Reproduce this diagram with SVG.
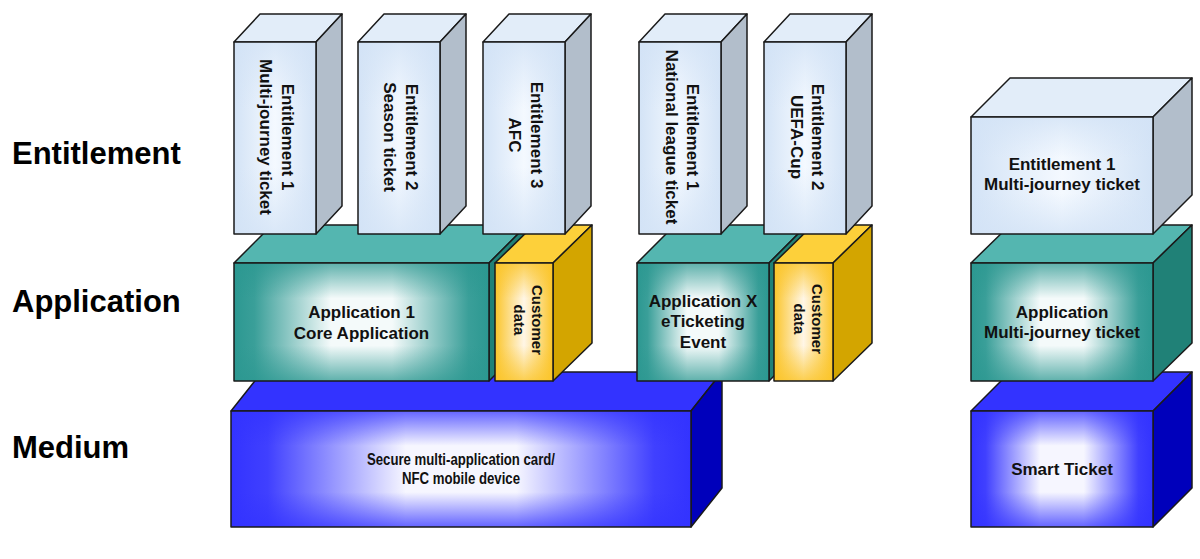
<svg xmlns="http://www.w3.org/2000/svg" width="1200" height="559" viewBox="0 0 1200 559">
<defs>
  <linearGradient id="entH" x1="0" y1="0" x2="1" y2="0">
    <stop offset="0" stop-color="#d3e3f6"/><stop offset="0.5" stop-color="#f4f9ff"/><stop offset="1" stop-color="#d3e3f6"/>
  </linearGradient>
  <linearGradient id="entV" x1="0" y1="0" x2="0" y2="1">
    <stop offset="0" stop-color="#d3e3f6" stop-opacity="0.8"/><stop offset="0.35" stop-color="#d3e3f6" stop-opacity="0"/><stop offset="0.65" stop-color="#d3e3f6" stop-opacity="0"/><stop offset="1" stop-color="#d3e3f6" stop-opacity="0.8"/>
  </linearGradient>
  <linearGradient id="appH" x1="0" y1="0" x2="1" y2="0">
    <stop offset="0" stop-color="#2c9891"/><stop offset="0.08" stop-color="#3a9f99"/><stop offset="0.38" stop-color="#f4fafa"/><stop offset="0.62" stop-color="#f4fafa"/><stop offset="0.92" stop-color="#3a9f99"/><stop offset="1" stop-color="#2c9891"/>
  </linearGradient>
  <linearGradient id="appV" x1="0" y1="0" x2="0" y2="1">
    <stop offset="0" stop-color="#2c9891" stop-opacity="0.75"/><stop offset="0.3" stop-color="#2c9891" stop-opacity="0"/><stop offset="0.7" stop-color="#2c9891" stop-opacity="0"/><stop offset="1" stop-color="#2c9891" stop-opacity="0.75"/>
  </linearGradient>
  <linearGradient id="custH" x1="0" y1="0" x2="1" y2="0">
    <stop offset="0" stop-color="#fbc52a"/><stop offset="0.5" stop-color="#fff6e6"/><stop offset="1" stop-color="#fbc52a"/>
  </linearGradient>
  <linearGradient id="custV" x1="0" y1="0" x2="0" y2="1">
    <stop offset="0" stop-color="#fbc52a" stop-opacity="0.8"/><stop offset="0.3" stop-color="#fbc52a" stop-opacity="0"/><stop offset="0.7" stop-color="#fbc52a" stop-opacity="0"/><stop offset="1" stop-color="#fbc52a" stop-opacity="0.8"/>
  </linearGradient>
  <linearGradient id="medH" x1="0" y1="0" x2="1" y2="0">
    <stop offset="0" stop-color="#3333ff"/><stop offset="0.08" stop-color="#4040ff"/><stop offset="0.38" stop-color="#f6f6ff"/><stop offset="0.62" stop-color="#f6f6ff"/><stop offset="0.92" stop-color="#4040ff"/><stop offset="1" stop-color="#3333ff"/>
  </linearGradient>
  <linearGradient id="medV" x1="0" y1="0" x2="0" y2="1">
    <stop offset="0" stop-color="#3333ff" stop-opacity="0.75"/><stop offset="0.3" stop-color="#3333ff" stop-opacity="0"/><stop offset="0.7" stop-color="#3333ff" stop-opacity="0"/><stop offset="1" stop-color="#3333ff" stop-opacity="0.75"/>
  </linearGradient>
</defs>
<style>
  .edge { stroke: #1a1a1a; stroke-width: 1.5; stroke-linejoin: round; }
  .ov { stroke: none; }
  .entTop { fill: #e2edf9; } .entSide { fill: #b2becb; } .entFront { fill: url(#entH); } .entOv { fill: url(#entV); }
  .appTop { fill: #54b6b0; } .appSide { fill: #208177; } .appFront { fill: url(#appH); } .appOv { fill: url(#appV); }
  .custTop { fill: #fdd03a; } .custSide { fill: #d3a500; } .custFront { fill: url(#custH); } .custOv { fill: url(#custV); }
  .medTop { fill: #3333ff; } .medSide { fill: #0000bb; } .medFront { fill: url(#medH); } .medOv { fill: url(#medV); }
  .lbl { font-family: "Liberation Sans", Arial, sans-serif; font-weight: bold; fill: #000; }
  .layer { font-size: 31px; }
  .t17 { font-size: 17px; text-anchor: middle; }
  .t15 { font-size: 15px; text-anchor: middle; }
  .t16 { font-size: 16px; text-anchor: middle; }
  .tx { fill: #111; }
</style>

<g id="layer-labels">
  <text class="lbl layer" x="12" y="164">Entitlement</text>
  <text class="lbl layer" x="12" y="312">Application</text>
  <text class="lbl layer" x="12" y="458">Medium</text>
</g>

<!-- Medium layer -->
<g id="medium-main">
  <polygon class="medTop edge" points="231,411 262,372 722,372 691,411"/>
  <polygon class="medSide edge" points="691,411 722,372 722,488 691,527"/>
  <rect class="medFront" x="231" y="411" width="460" height="116"/>
  <rect class="medOv ov" x="231" y="411" width="460" height="116"/>
  <rect class="edge" fill="none" x="231" y="411" width="460" height="116"/>
  <text class="lbl t16 tx"><tspan x="461" y="465" textLength="188" lengthAdjust="spacingAndGlyphs">Secure multi-application card/</tspan><tspan x="461" y="484" textLength="118" lengthAdjust="spacingAndGlyphs">NFC mobile device</tspan></text>
</g>

<g id="medium-right">
  <polygon class="medTop edge" points="971,411 1010,372 1192,372 1153,411"/>
  <polygon class="medSide edge" points="1153,411 1192,372 1192,488 1153,527"/>
  <rect class="medFront" x="971" y="411" width="182" height="116"/>
  <rect class="medOv ov" x="971" y="411" width="182" height="116"/>
  <rect class="edge" fill="none" x="971" y="411" width="182" height="116"/>
  <text class="lbl t17 tx" x="1062" y="475">Smart Ticket</text>
</g>

<!-- Application layer -->
<g id="app-1">
  <polygon class="appTop edge" points="234,263 272,225 527,225 489,263"/>
  <polygon class="appSide edge" points="489,263 527,225 527,343 489,381"/>
  <rect class="appFront" x="234" y="263" width="255" height="118"/>
  <rect class="appOv ov" x="234" y="263" width="255" height="118"/>
  <rect class="edge" fill="none" x="234" y="263" width="255" height="118"/>
  <text class="lbl t17 tx"><tspan x="361.5" y="318">Application 1</tspan><tspan x="361.5" y="339">Core Application</tspan></text>
</g>

<g id="customer-data-1">
  <polygon class="custTop edge" points="495,263 534,225 592,225 553,263"/>
  <polygon class="custSide edge" points="553,263 592,225 592,343 553,381"/>
  <rect class="custFront" x="495" y="263" width="58" height="118"/>
  <rect class="custOv ov" x="495" y="263" width="58" height="118"/>
  <rect class="edge" fill="none" x="495" y="263" width="58" height="118"/>
  <text class="lbl t15 tx" transform="translate(524,320) rotate(90)"><tspan x="0" y="-8">Customer</tspan><tspan x="0" y="10">data</tspan></text>
</g>

<g id="app-x">
  <polygon class="appTop edge" points="637,263 675,225 807,225 769,263"/>
  <polygon class="appSide edge" points="769,263 807,225 807,343 769,381"/>
  <rect class="appFront" x="637" y="263" width="132" height="118"/>
  <rect class="appOv ov" x="637" y="263" width="132" height="118"/>
  <rect class="edge" fill="none" x="637" y="263" width="132" height="118"/>
  <text class="lbl t17 tx"><tspan x="703" y="307">Application X</tspan><tspan x="703" y="327">eTicketing</tspan><tspan x="703" y="348">Event</tspan></text>
</g>

<g id="customer-data-2">
  <polygon class="custTop edge" points="774,263 813,225 872,225 833,263"/>
  <polygon class="custSide edge" points="833,263 872,225 872,343 833,381"/>
  <rect class="custFront" x="774" y="263" width="59" height="118"/>
  <rect class="custOv ov" x="774" y="263" width="59" height="118"/>
  <rect class="edge" fill="none" x="774" y="263" width="59" height="118"/>
  <text class="lbl t15 tx" transform="translate(803.5,319) rotate(90)"><tspan x="0" y="-8">Customer</tspan><tspan x="0" y="10">data</tspan></text>
</g>

<g id="app-right">
  <polygon class="appTop edge" points="971,263 1010,225 1192,225 1153,263"/>
  <polygon class="appSide edge" points="1153,263 1192,225 1192,343 1153,381"/>
  <rect class="appFront" x="971" y="263" width="182" height="118"/>
  <rect class="appOv ov" x="971" y="263" width="182" height="118"/>
  <rect class="edge" fill="none" x="971" y="263" width="182" height="118"/>
  <text class="lbl t17 tx"><tspan x="1062" y="318">Application</tspan><tspan x="1062" y="338">Multi-journey ticket</tspan></text>
</g>

<!-- Entitlement layer -->
<g id="ent-1">
  <polygon class="entTop edge" points="234,42 260,14 342,14 316,42"/>
  <polygon class="entSide edge" points="316,42 342,14 342,206 316,234"/>
  <rect class="entFront" x="234" y="42" width="82" height="192"/>
  <rect class="entOv ov" x="234" y="42" width="82" height="192"/>
  <rect class="edge" fill="none" x="234" y="42" width="82" height="192"/>
  <text class="lbl t17 tx" transform="translate(275,137) rotate(90)"><tspan x="0" y="-6.5">Entitlement 1</tspan><tspan x="0" y="15">Multi-journey ticket</tspan></text>
</g>

<g id="ent-2">
  <polygon class="entTop edge" points="358,42 384,14 466,14 440,42"/>
  <polygon class="entSide edge" points="440,42 466,14 466,206 440,234"/>
  <rect class="entFront" x="358" y="42" width="82" height="192"/>
  <rect class="entOv ov" x="358" y="42" width="82" height="192"/>
  <rect class="edge" fill="none" x="358" y="42" width="82" height="192"/>
  <text class="lbl t17 tx" transform="translate(399,137) rotate(90)"><tspan x="0" y="-6.5">Entitlement 2</tspan><tspan x="0" y="15">Season ticket</tspan></text>
</g>

<g id="ent-3">
  <polygon class="entTop edge" points="483,42 509,14 591,14 565,42"/>
  <polygon class="entSide edge" points="565,42 591,14 591,206 565,234"/>
  <rect class="entFront" x="483" y="42" width="82" height="192"/>
  <rect class="entOv ov" x="483" y="42" width="82" height="192"/>
  <rect class="edge" fill="none" x="483" y="42" width="82" height="192"/>
  <text class="lbl t17 tx" transform="translate(524,135) rotate(90)"><tspan x="0" y="-6.5">Entitlement 3</tspan><tspan x="0" y="15">AFC</tspan></text>
</g>

<g id="ent-4">
  <polygon class="entTop edge" points="639,42 665,14 747,14 721,42"/>
  <polygon class="entSide edge" points="721,42 747,14 747,206 721,234"/>
  <rect class="entFront" x="639" y="42" width="82" height="192"/>
  <rect class="entOv ov" x="639" y="42" width="82" height="192"/>
  <rect class="edge" fill="none" x="639" y="42" width="82" height="192"/>
  <text class="lbl t17 tx" transform="translate(680,137) rotate(90)"><tspan x="0" y="-7">Entitlement 1</tspan><tspan x="0" y="14.5">National league ticket</tspan></text>
</g>

<g id="ent-5">
  <polygon class="entTop edge" points="764,42 790,14 872,14 846,42"/>
  <polygon class="entSide edge" points="846,42 872,14 872,206 846,234"/>
  <rect class="entFront" x="764" y="42" width="82" height="192"/>
  <rect class="entOv ov" x="764" y="42" width="82" height="192"/>
  <rect class="edge" fill="none" x="764" y="42" width="82" height="192"/>
  <text class="lbl t17 tx" transform="translate(805,137) rotate(90)"><tspan x="0" y="-7">Entitlement 2</tspan><tspan x="0" y="14.5">UEFA-Cup</tspan></text>
</g>

<g id="ent-right">
  <polygon class="entTop edge" points="971,117 1010,78 1192,78 1153,117"/>
  <polygon class="entSide edge" points="1153,117 1192,78 1192,195 1153,234"/>
  <rect class="entFront" x="971" y="117" width="182" height="117"/>
  <rect class="entOv ov" x="971" y="117" width="182" height="117"/>
  <rect class="edge" fill="none" x="971" y="117" width="182" height="117"/>
  <text class="lbl t17 tx"><tspan x="1062" y="170">Entitlement 1</tspan><tspan x="1062" y="190">Multi-journey ticket</tspan></text>
</g>

<g id="connectors"/>
</svg>
